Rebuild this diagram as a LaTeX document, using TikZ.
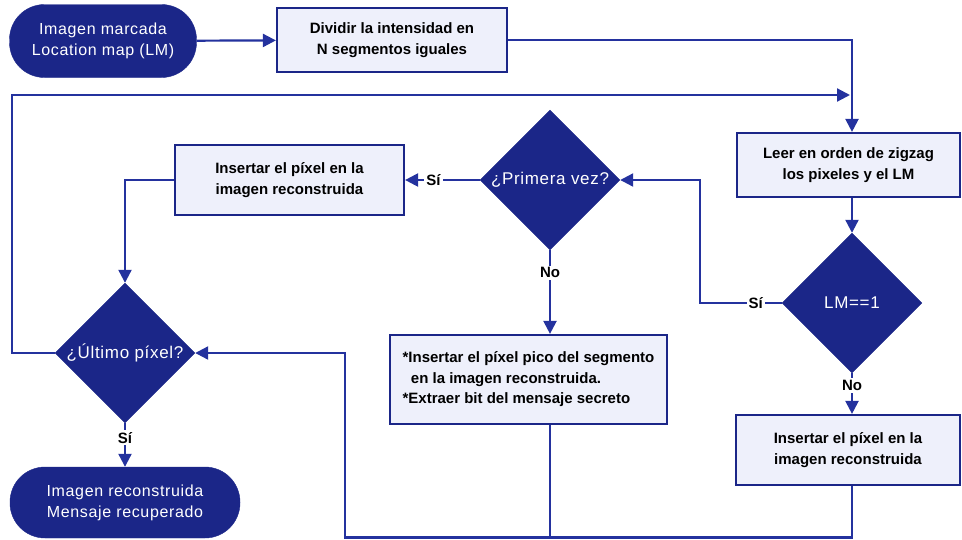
\documentclass[tikz,border=0pt]{standalone}
\usepackage{fontspec}
\setmainfont{Liberation Sans}
\newfontfamily\termfont[LetterSpace=4]{Liberation Sans}
\newfontfamily\decfont[LetterSpace=4]{Liberation Sans}
\usetikzlibrary{shapes.geometric,arrows.meta}
\definecolor{navy}{RGB}{27,38,136}
\definecolor{linec}{RGB}{36,50,158}
\definecolor{boxfill}{RGB}{238,240,251}
\tikzset{
  flow/.style={draw=linec, line width=2.2pt},
  arr/.style={flow, -{Triangle[length=13pt,width=13pt]}},
  terminal/.style={fill=navy, draw=navy, rounded corners=35pt, text=white,
    align=center, font=\termfont\fontsize{16}{21}\selectfont, inner sep=0pt},
  procbox/.style={fill=boxfill, draw=navy, line width=2.2pt, align=center,
    font=\bfseries\fontsize{15}{20.5}\selectfont, inner sep=0pt},
  decision/.style={diamond, fill=navy, draw=navy, text=white, inner sep=0pt,
    minimum width=140pt, minimum height=140pt, aspect=1,
    font=\decfont\fontsize{17}{20}\selectfont},
  lbl/.style={fill=white, inner sep=2pt, font=\bfseries\fontsize{15}{16}\selectfont, text=black}
}
\begin{document}
\begin{tikzpicture}[x=1pt,y=-1pt]
\useasboundingbox (0,0) rectangle (962,539);
% nodes
\node[terminal, minimum width=187pt, minimum height=73pt] (start) at (103,41)
  {Imagen marcada\\Location map (LM)};
\node[procbox, minimum width=230pt, minimum height=64pt] (divide) at (392,40)
  {Dividir la intensidad en\\N segmentos iguales};
\node[procbox, minimum width=223pt, minimum height=64pt] (leer) at (848.5,165)
  {Leer en orden de zigzag\\los pixeles y el LM};
\node[decision] (lm) at (852,303) {LM==1};
\node[decision] (primera) at (550,180) {¿Primera vez?};
\node[procbox, minimum width=229pt, minimum height=70pt] (ins1) at (289.5,180)
  {Insertar el píxel en la\\imagen reconstruida};
\node[decision] (ultimo) at (125,353) {¿Último píxel?};
\node[terminal, minimum width=230pt, minimum height=71pt] (fin) at (125,502.5)
  {Imagen reconstruida\\Mensaje recuperado};
\node[procbox, minimum width=277pt, minimum height=89pt, align=left] (pico) at (528.5,379.5)
  {*Insertar el píxel pico del segmento\\\ \ en la imagen reconstruida.\\*Extraer bit del mensaje secreto};
\node[procbox, minimum width=224pt, minimum height=70pt] (ins2) at (848,450)
  {Insertar el píxel en la\\imagen reconstruida};
% routing points
\coordinate (loopL) at (12,95);
\coordinate (loopR) at (850,95);
\coordinate (bot) at (852,537.5);
\coordinate (botL) at (345,537.5);
% connectors
\draw[arr] (start) -- (divide);
\draw[arr] (divide.east) -| (leer.north -| lm);
\draw[arr] (ultimo.west) -| (loopL) -- (loopR);
\draw[arr] (leer.south -| lm) -- (lm.north);
\draw[arr] (lm.west) -- node[lbl, pos=0.32]{Sí} (700,303) |- (primera.east);
\draw[arr] (lm.south) -- node[lbl, pos=0.3]{No} (lm.south |- ins2.north);
\draw[arr] (primera.west) -- node[lbl, pos=0.62]{Sí} (ins1.east);
\draw[arr] (primera.south) -- node[lbl, pos=0.27]{No} (primera.south |- pico.north);
\draw[arr] (ins1.west) -| (ultimo.north);
\draw[arr] (ultimo.south) -- node[lbl, pos=0.33]{Sí} (fin.north);
\draw[flow] (pico.south -| primera) -- (primera |- bot);
\draw[arr] (ins2.south -| lm) -- (bot) -- (botL) |- (ultimo.east);
\end{tikzpicture}
\end{document}
